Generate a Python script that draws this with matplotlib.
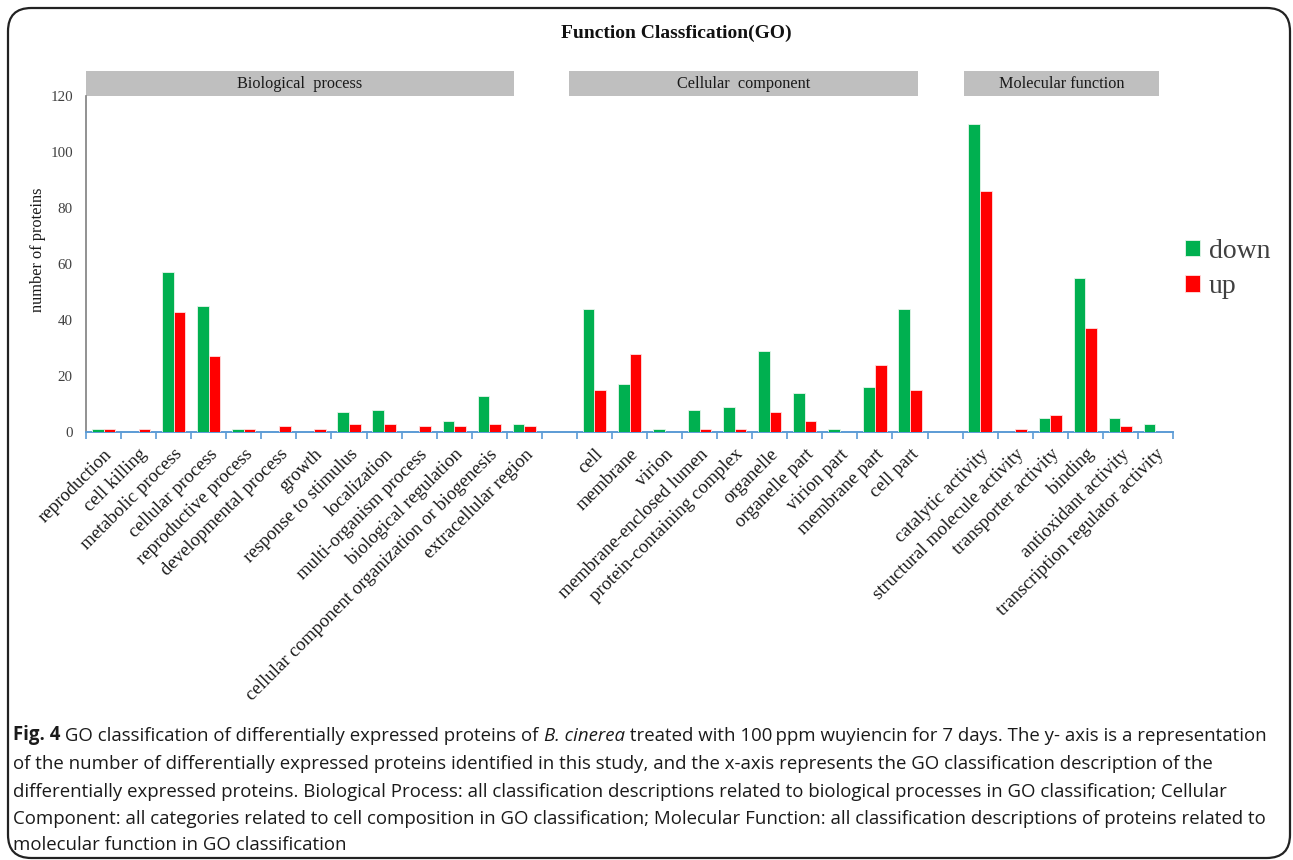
import matplotlib
matplotlib.use("Agg")
import matplotlib.pyplot as plt
from matplotlib.patches import Rectangle, FancyBboxPatch
from matplotlib.text import Annotation
import numpy as np

# ---- data ----
bp_terms = ["reproduction", "cell killing", "metabolic process", "cellular process",
            "reproductive process", "developmental process", "growth",
            "response to stimulus", "localization", "multi-organism process",
            "biological regulation", "cellular component organization or biogenesis",
            "extracellular region"]
bp_down = [1, 0, 57, 45, 1, 0, 0, 7, 8, 0, 4, 13, 3]
bp_up = [1, 1, 43, 27, 1, 2, 1, 3, 3, 2, 2, 3, 2]

cc_terms = ["cell", "membrane", "virion", "membrane-enclosed lumen",
            "protein-containing complex", "organelle", "organelle part",
            "virion part", "membrane part", "cell part"]
cc_down = [44, 17, 1, 8, 9, 29, 14, 1, 16, 44]
cc_up = [15, 28, 0, 1, 1, 7, 4, 0, 24, 15]

mf_terms = ["catalytic activity", "structural molecule activity",
            "transporter activity", "binding", "antioxidant activity",
            "transcription regulator activity"]
mf_down = [110, 0, 5, 55, 5, 3]
mf_up = [86, 1, 6, 37, 2, 0]

group_names = ["Biological  process", "Cellular  component", "Molecular function"]
series_names = ["down", "up"]
yticks = [0, 20, 40, 60, 80, 100, 120]

GREEN = "#00b050"
RED = "#ff0000"
AXIS_BLUE = "#5b9bd5"
SERIF = ["Liberation Serif", "DejaVu Serif"]

# one empty slot separates the three GO groups
groups = [(bp_terms, bp_down, bp_up), (cc_terms, cc_down, cc_up), (mf_terms, mf_down, mf_up)]
labels, down, up = [], [], []
for gi, (t, d, u) in enumerate(groups):
    if gi > 0:
        labels.append("")
        down.append(0)
        up.append(0)
    labels += t
    down += d
    up += u
n = len(labels)
centers = np.arange(n) + 0.5

W, H = 1293, 860
fig = plt.figure(figsize=(W / 100, H / 100), dpi=100)

# outer frame around figure and caption
frame = FancyBboxPatch((8 / W, 2 / H), 1282 / W, 850 / H,
                       boxstyle="round,pad=0,rounding_size=0.018",
                       transform=fig.transFigure, fill=False,
                       edgecolor="#222222", linewidth=1.6, mutation_aspect=W / H)
fig.add_artist(frame)

ax = fig.add_axes([86 / W, 1 - 432 / H, (1173 - 86) / W, (432 - 96) / H])
w = 0.333
b1 = ax.bar(centers - w / 2, down, width=w, color=GREEN, edgecolor="#e8f5ec",
            linewidth=0.6, label=series_names[0], zorder=3)
b2 = ax.bar(centers + w / 2, up, width=w, color=RED, edgecolor="#ffe0e0",
            linewidth=0.6, label=series_names[1], zorder=3)
# drop zero-height bars so they leave no outline
for bars, vals in ((b1, down), (b2, up)):
    for rect, v in zip(bars, vals):
        if v == 0:
            rect.set_visible(False)

ax.set_xlim(0, n)
ax.set_ylim(0, 120)
ax.set_yticks(yticks)
ax.set_yticklabels([str(v) for v in yticks], fontfamily=SERIF, fontsize=10.8, color="#404040")
ax.tick_params(axis="y", length=0, pad=9.5)

ax.set_xticks(np.arange(n + 1))
ax.set_xticklabels([])
ax.tick_params(axis="x", which="major", length=5, color=AXIS_BLUE, width=1.2, direction="out")
ax.set_xticks(centers, minor=True)
ax.set_xticklabels(labels, minor=True, rotation=45, ha="right", va="top",
                   rotation_mode="anchor", fontfamily=SERIF, fontsize=13.5, color="#1a1a1a")
ax.tick_params(axis="x", which="minor", length=0, pad=10)

for s in ("top", "right"):
    ax.spines[s].set_visible(False)
ax.spines["left"].set_color("#7f7f7f")
ax.spines["left"].set_linewidth(1.2)
ax.spines["bottom"].set_color(AXIS_BLUE)
ax.spines["bottom"].set_linewidth(1.4)

fig.text(38 / W, 1 - 250 / H, "number of proteins", rotation=90, ha="center", va="center",
         fontfamily=SERIF, fontsize=11.8, color="#1a1a1a")

# group header bands above the plot
bands = [(0.0, 12.2), (13.77, 23.72), (25.03, 30.6)]
for (x0, x1), name in zip(bands, group_names):
    r = Rectangle((x0, 1.0), x1 - x0, 25 / 336, transform=ax.get_xaxis_transform(),
                  facecolor="#bfbfbf", edgecolor="none", clip_on=False)
    ax.add_patch(r)
    ax.text((x0 + x1) / 2, 1.0 + 12.5 / 336, name, transform=ax.get_xaxis_transform(),
            ha="center", va="center", fontfamily=SERIF, fontsize=11.7, color="#1a1a1a")

fig.text(676 / W, 1 - 33 / H, "Function Classfication(GO)", ha="center", va="center",
         fontfamily=SERIF, fontsize=14, fontweight="bold", color="#111111")

leg = ax.legend(loc="center left", bbox_to_anchor=(1160 / W, 1 - 269 / H),
                bbox_transform=fig.transFigure, frameon=False, handlelength=0.55,
                handleheight=0.55, handletextpad=0.3, labelspacing=0.38,
                prop={"family": SERIF, "size": 20})
for t in leg.get_texts():
    t.set_color("#404040")

# caption
CAP = ["Liberation Sans Narrow", "Open Sans", "DejaVu Sans"]
cap_size = 13.4
cap_color = "#1a1a1a"
x_left = 13 / W
line_y = [736, 764, 792, 819, 845]


def run(segments, ypx):
    prev = None
    for text, style in segments:
        kw = dict(fontfamily=CAP, fontsize=cap_size, color=cap_color, va="bottom", ha="left")
        if style == "b":
            kw["fontweight"] = "bold"
        elif style == "i":
            kw["fontstyle"] = "italic"
        if prev is None:
            prev = fig.text(x_left, 1 - (ypx + 9) / H, text, **kw)
        else:
            prev = fig.add_artist(Annotation(text, xy=(1, 0), xycoords=prev, **kw))


run([("Fig. 4", "b"), (" GO classification of differentially expressed proteins of ", "n"),
     ("B. cinerea", "i"),
     (" treated with 100\u2009ppm wuyiencin for 7 days. The y- axis is a representation", "n")],
    line_y[0])
rest = ["of the number of differentially expressed proteins identified in this study, and the x-axis represents the GO classification description of the",
        "differentially expressed proteins. Biological Process: all classification descriptions related to biological processes in GO classification; Cellular",
        "Component: all categories related to cell composition in GO classification; Molecular Function: all classification descriptions of proteins related to",
        "molecular function in GO classification"]
for line, y in zip(rest, line_y[1:]):
    run([(line, "n")], y)

fig.savefig("out.png", dpi=100)
